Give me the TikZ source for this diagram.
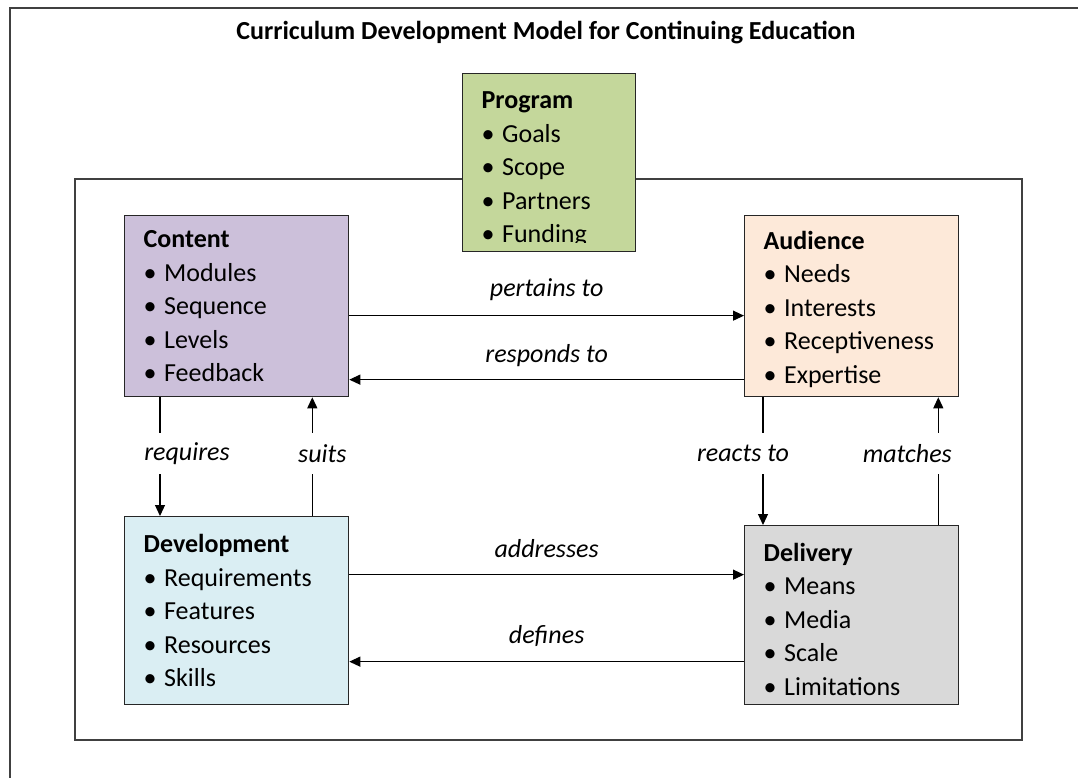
\documentclass[tikz,border=0pt]{standalone}
\usepackage{fontspec}
\setmainfont{Carlito}
\usetikzlibrary{arrows.meta, positioning}

\definecolor{programgreen}{RGB}{196,215,155}
\definecolor{contentpurple}{RGB}{204,192,218}
\definecolor{audiencepeach}{RGB}{253,233,217}
\definecolor{devblue}{RGB}{218,238,243}
\definecolor{deliverygrey}{RGB}{217,217,217}

\newcommand{\itembul}{\makebox[20.5pt][l]{\textbullet}}

\begin{document}
\begin{tikzpicture}[
    x=1pt, y=1pt,
    box/.style={
        rectangle, draw=black!85, line width=1.3pt, anchor=north west,
        inner xsep=19pt, inner ysep=0pt, align=left,
        font=\fontsize{26}{33.5}\selectfont
    },
    frame/.style={draw=black!75, line width=1.3pt},
    link/.style={draw=black, line width=1.2pt},
    >={Triangle[length=11pt, width=10pt]},
    lbl/.style={font=\fontsize{26}{30}\selectfont\itshape},
    gap/.style={lbl, fill=white, inner xsep=2pt, inner ysep=0pt, minimum height=41pt}
]

\useasboundingbox (0,0) rectangle (1078,-778);

% page frame and the inner panel
\draw[frame, line width=2pt] (10,-778) -- (10,-8) -- (1078,-8);
\draw[frame] (75,-179) rectangle (1022,-740);

\node[font=\fontsize{26}{30}\selectfont\bfseries] (title) at (546,-33)
    {Curriculum Development Model for Continuing Education};

% the five boxes
\node[box, fill=programgreen, text width=135pt, minimum height=178pt] (program) at (462,-73)
    {\textbf{Program}\rule{0pt}{31pt}\\ \itembul Goals\\ \itembul Scope\\ \itembul Partners\\ \itembul Funding};
% Funding runs into the bottom margin and is cut there
\fill[programgreen] ([xshift=1.5pt, yshift=1.5pt]program.south west)
    rectangle ([xshift=-1.5pt, yshift=9pt]program.south east);

\node[box, fill=contentpurple, text width=186pt, minimum height=181pt] (content) at (124,-215)
    {\textbf{Content}\\ \itembul Modules\\ \itembul Sequence\\ \itembul Levels\\ \itembul Feedback};
\node[box, fill=audiencepeach, text width=176pt, minimum height=181pt] (audience) at (744,-215)
    {\textbf{Audience}\rule{0pt}{24pt}\\ \itembul Needs\\ \itembul Interests\\ \itembul Receptiveness\\ \itembul Expertise};
\node[box, fill=devblue, text width=186pt, minimum height=188pt] (dev) at (124,-516)
    {\textbf{Development}\\ \itembul Requirements\\ \itembul Features\\ \itembul Resources\\ \itembul Skills};
\node[box, fill=deliverygrey, text width=176pt, minimum height=179pt] (delivery) at (744,-525)
    {\textbf{Delivery}\rule{0pt}{26pt}\\ \itembul Means\\ \itembul Media\\ \itembul Scale\\ \itembul Limitations};

% horizontal links
\draw[link, ->] ([yshift=-9.5pt]content.east) -- ([yshift=-9.5pt]audience.west)
    node[lbl, midway, yshift=26pt] {pertains to};
\draw[link, ->] ([yshift=-73.5pt]audience.west) -- ([yshift=-73.5pt]content.east)
    node[lbl, midway, yshift=24pt] {responds to};
\draw[link, ->] ([yshift=36pt]dev.east) -- ([yshift=40.5pt]delivery.west)
    node[lbl, midway, yshift=26pt] {addresses};
\draw[link, ->] ([yshift=-46.5pt]delivery.west) -- ([yshift=-51pt]dev.east)
    node[lbl, midway, yshift=26pt] {defines};

% vertical links, the label breaks the line
\draw[link, ->] ([xshift=36pt]content.south west) -- ([xshift=36pt]dev.north west)
    node[gap, pos=0.475, xshift=27pt] {requires};
\draw[link, ->] ([xshift=-37pt]dev.north east) -- ([xshift=-37pt]content.south east)
    node[gap, pos=0.525, xshift=10pt] {suits};
\draw[link, ->] ([xshift=19pt]audience.south west) -- ([xshift=19pt]delivery.north west)
    node[gap, pos=0.442, xshift=-20pt] {reacts to};
\draw[link, ->] ([xshift=-21pt]delivery.north east) -- ([xshift=-21pt]audience.south east)
    node[gap, pos=0.558, xshift=-31pt] {matches};

\end{tikzpicture}
\end{document}
